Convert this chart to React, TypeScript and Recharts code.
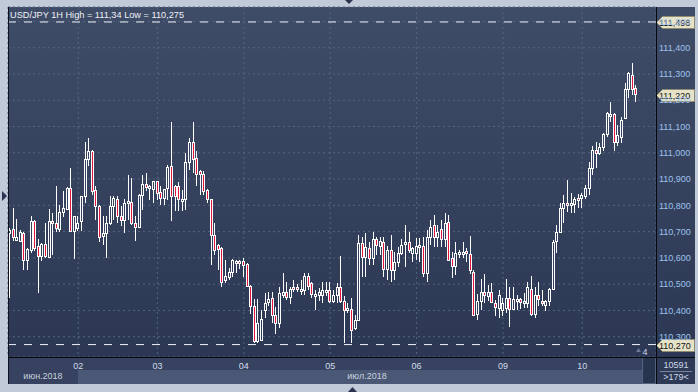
import React from 'react';
import { ComposedChart, Bar, XAxis, YAxis, CartesianGrid, ReferenceLine } from 'recharts';

const FONT = '"Liberation Sans", Arial, sans-serif';

// ---- data (hourly USD/JPY candles) ----
const opens = [
  110.695, 110.711, 110.669, 110.666, 110.694, 110.593, 110.631, 110.741, 110.644, 110.606,
  110.652, 110.602, 110.741, 110.732, 110.711, 110.774, 110.786, 110.865, 110.701, 110.713,
  110.739, 110.834, 110.976, 111.005, 110.859, 110.799, 110.684, 110.694, 110.732, 110.799,
  110.825, 110.758, 110.745, 110.808, 110.812, 110.732, 110.717, 110.840, 110.882, 110.865,
  110.862, 110.891, 110.849, 110.827, 110.865, 110.948, 110.872, 110.874, 110.823, 110.823,
  110.964, 111.043, 110.979, 110.929, 110.920, 110.859, 110.823, 110.688, 110.650, 110.637,
  110.517, 110.529, 110.545, 110.587, 110.590, 110.587, 110.578, 110.492, 110.416, 110.282,
  110.289, 110.403, 110.431, 110.447, 110.384, 110.352, 110.460, 110.472, 110.450, 110.489,
  110.488, 110.473, 110.479, 110.532, 110.504, 110.457, 110.460, 110.460, 110.478, 110.478,
  110.434, 110.460, 110.491, 110.434, 110.402, 110.405, 110.333, 110.364, 110.658, 110.603,
  110.637, 110.600, 110.671, 110.646, 110.662, 110.557, 110.630, 110.552, 110.586, 110.618,
  110.653, 110.662, 110.620, 110.620, 110.643, 110.646, 110.544, 110.678, 110.725, 110.678,
  110.709, 110.671, 110.738, 110.599, 110.570, 110.620, 110.622, 110.628, 110.614, 110.546,
  110.388, 110.434, 110.472, 110.456, 110.472, 110.428, 110.409, 110.400, 110.409, 110.447,
  110.405, 110.434, 110.443, 110.428, 110.428, 110.481, 110.387, 110.459, 110.437, 110.419,
  110.434, 110.481, 110.666, 110.700, 110.789, 110.810, 110.802, 110.805, 110.827, 110.827,
  110.836, 110.865, 110.941, 111.011, 110.998, 111.021, 111.072, 111.145, 111.148, 111.040,
  111.059, 111.131, 111.241, 111.296, 111.245,
];
const highs = [
  110.713, 110.789, 110.749, 110.705, 110.700, 110.637, 110.758, 110.745, 110.673, 110.656,
  110.732, 110.787, 110.770, 110.874, 110.802, 110.853, 110.870, 110.941, 110.758, 110.758,
  110.836, 111.043, 111.055, 111.010, 110.874, 110.802, 110.758, 110.758, 110.834, 110.836,
  110.836, 110.796, 110.823, 110.916, 110.903, 110.758, 110.844, 110.916, 110.922, 110.876,
  110.893, 110.893, 110.874, 110.864, 110.954, 111.119, 110.878, 110.887, 110.859, 111.001,
  111.055, 111.116, 111.008, 110.935, 110.929, 110.862, 110.826, 110.732, 110.652, 110.640,
  110.593, 110.561, 110.596, 110.593, 110.593, 110.599, 110.580, 110.498, 110.443, 110.443,
  110.403, 110.466, 110.469, 110.469, 110.413, 110.491, 110.542, 110.510, 110.491, 110.517,
  110.500, 110.515, 110.542, 110.542, 110.508, 110.478, 110.485, 110.510, 110.510, 110.510,
  110.478, 110.504, 110.608, 110.453, 110.428, 110.447, 110.383, 110.687, 110.678, 110.694,
  110.662, 110.697, 110.678, 110.681, 110.681, 110.646, 110.687, 110.624, 110.643, 110.671,
  110.725, 110.700, 110.643, 110.675, 110.675, 110.681, 110.706, 110.744, 110.763, 110.725,
  110.744, 110.772, 110.763, 110.624, 110.662, 110.631, 110.662, 110.637, 110.684, 110.555,
  110.463, 110.519, 110.540, 110.498, 110.504, 110.441, 110.479, 110.447, 110.519, 110.491,
  110.491, 110.460, 110.447, 110.466, 110.510, 110.532, 110.491, 110.510, 110.476, 110.441,
  110.485, 110.669, 110.726, 110.808, 110.840, 110.897, 110.848, 110.833, 110.844, 110.846,
  110.878, 110.966, 111.026, 111.043, 111.036, 111.074, 111.157, 111.195, 111.150, 111.106,
  111.135, 111.267, 111.309, 111.343, 111.258,
];
const lows = [
  110.447, 110.663, 110.666, 110.660, 110.555, 110.555, 110.618, 110.625, 110.466, 110.587,
  110.600, 110.600, 110.612, 110.700, 110.698, 110.757, 110.783, 110.698, 110.597, 110.701,
  110.701, 110.808, 110.948, 110.840, 110.745, 110.660, 110.650, 110.600, 110.726, 110.745,
  110.732, 110.723, 110.694, 110.745, 110.726, 110.666, 110.713, 110.783, 110.853, 110.821,
  110.808, 110.821, 110.802, 110.802, 110.821, 110.739, 110.777, 110.777, 110.777, 110.783,
  110.935, 110.922, 110.872, 110.840, 110.840, 110.808, 110.574, 110.612, 110.555, 110.491,
  110.504, 110.517, 110.529, 110.542, 110.557, 110.529, 110.490, 110.388, 110.276, 110.276,
  110.286, 110.371, 110.416, 110.352, 110.311, 110.333, 110.447, 110.441, 110.425, 110.472,
  110.470, 110.460, 110.460, 110.479, 110.447, 110.402, 110.434, 110.428, 110.453, 110.428,
  110.428, 110.428, 110.428, 110.276, 110.390, 110.276, 110.326, 110.358, 110.529, 110.527,
  110.573, 110.573, 110.611, 110.611, 110.527, 110.517, 110.510, 110.517, 110.567, 110.611,
  110.567, 110.618, 110.586, 110.592, 110.586, 110.527, 110.510, 110.650, 110.643, 110.643,
  110.643, 110.643, 110.590, 110.523, 110.535, 110.599, 110.599, 110.586, 110.540, 110.377,
  110.365, 110.400, 110.428, 110.434, 110.428, 110.380, 110.371, 110.377, 110.390, 110.337,
  110.403, 110.403, 110.405, 110.409, 110.409, 110.377, 110.371, 110.415, 110.418, 110.396,
  110.415, 110.476, 110.618, 110.697, 110.732, 110.773, 110.770, 110.770, 110.789, 110.789,
  110.823, 110.840, 110.916, 110.941, 110.993, 111.005, 111.059, 111.119, 111.008, 111.026,
  111.039, 111.127, 111.207, 111.220, 111.195,
];
const closes = [
  110.705, 110.679, 110.679, 110.698, 110.593, 110.633, 110.741, 110.637, 110.606, 110.652,
  110.606, 110.741, 110.732, 110.713, 110.774, 110.789, 110.865, 110.701, 110.758, 110.732,
  110.834, 110.976, 111.005, 110.853, 110.799, 110.681, 110.694, 110.732, 110.799, 110.827,
  110.761, 110.745, 110.808, 110.815, 110.732, 110.717, 110.840, 110.882, 110.869, 110.874,
  110.891, 110.846, 110.827, 110.862, 110.945, 110.836, 110.836, 110.823, 110.826, 110.964,
  111.043, 110.976, 110.920, 110.920, 110.853, 110.823, 110.688, 110.631, 110.633, 110.510,
  110.532, 110.545, 110.593, 110.590, 110.583, 110.573, 110.492, 110.416, 110.282, 110.352,
  110.367, 110.428, 110.445, 110.384, 110.352, 110.466, 110.472, 110.451, 110.481, 110.481,
  110.482, 110.480, 110.532, 110.494, 110.464, 110.462, 110.472, 110.478, 110.479, 110.434,
  110.460, 110.489, 110.434, 110.402, 110.409, 110.326, 110.364, 110.656, 110.603, 110.643,
  110.600, 110.671, 110.650, 110.666, 110.557, 110.630, 110.552, 110.586, 110.620, 110.650,
  110.662, 110.630, 110.637, 110.646, 110.650, 110.544, 110.678, 110.719, 110.678, 110.700,
  110.671, 110.732, 110.592, 110.570, 110.620, 110.624, 110.624, 110.618, 110.555, 110.384,
  110.434, 110.472, 110.460, 110.472, 110.432, 110.413, 110.460, 110.428, 110.447, 110.405,
  110.443, 110.443, 110.432, 110.437, 110.489, 110.387, 110.460, 110.443, 110.428, 110.434,
  110.481, 110.662, 110.700, 110.789, 110.808, 110.802, 110.808, 110.823, 110.821, 110.840,
  110.865, 110.941, 111.011, 110.998, 111.021, 111.072, 111.153, 111.148, 111.040, 111.068,
  111.125, 111.241, 111.305, 111.241, 111.224,
];

const dayTickIndex = [19, 41, 65, 89, 113, 137, 159];
const dayTickLabels = ['02', '03', '04', '05', '06', '09', '10'];
const priceTicks = [110.3, 110.4, 110.5, 110.6, 110.7, 110.8, 110.9, 111.0, 111.1, 111.2, 111.3, 111.4, 111.5];
const highLine = 111.498;
const lowLine = 110.27;
const lastPrice = 111.22;
const monthLabels = ['июн.2018', 'июл.2018'];
const titleText = 'USD/JPY 1H High = 111,34 Low = 110,275';
const barsCountText = '10591';
const visibleText = '>179<';
const cornerNumber = '4';

// ---- layout ----
const SLOT_COUNT = 180;
const Y_MIN = 110.2227;
const Y_MAX = 111.555;
const RED = '#e2153d';

const rows = Array.from({ length: SLOT_COUNT }, (_, i) =>
  i < opens.length
    ? { t: i, o: opens[i], h: highs[i], l: lows[i], c: closes[i], range: [lows[i], highs[i]] }
    : { t: i, range: null }
);

const fmt = (v: number) => v.toFixed(3).replace('.', ',');
const dayLabel = (v: any) => {
  const k = dayTickIndex.indexOf(Number(v));
  return k >= 0 ? dayTickLabels[k] : '';
};

function Candle(props: any) {
  const { x, y, width, height, payload } = props;
  if (!payload || payload.o == null || x == null || y == null) return null;
  const { o, h, l, c } = payload;
  const top = Math.min(y, y + height);
  const bottom = Math.max(y, y + height);
  const span = h - l;
  const ppu = span > 0 ? (bottom - top) / span : 0;
  const yOf = (v: number) => top + (h - v) * ppu;
  const cx = Math.floor(x + width / 2);
  const wTop = Math.round(top);
  const wBot = Math.round(bottom);
  const bTop = Math.round(yOf(Math.max(o, c)));
  let bBot = Math.round(yOf(Math.min(o, c)));
  if (bBot - bTop < 2) bBot = bTop + 2;
  const bear = c < o;
  return (
    <g>
      <rect x={cx} y={wTop} width={1} height={Math.max(1, wBot - wTop)} fill="#ffffff" />
      <rect x={cx - 1} y={bTop} width={3} height={bBot - bTop + 1} fill="#ffffff" />
      <rect x={cx} y={bTop + 1} width={1} height={bBot - bTop - 1} fill={bear ? RED : 'url(#candleHole)'} />
    </g>
  );
}

function PriceTag(props: any) {
  const { viewBox, text } = props;
  if (!viewBox) return null;
  const px = viewBox.x + viewBox.width;
  const py = Math.round(viewBox.y) + 0.5;
  return (
    <g>
      <path
        d={`M${px + 0.5} ${py} L${px + 6.5} ${py - 6} L${px + 38.5} ${py - 6} L${px + 38.5} ${py + 6} L${px + 6.5} ${py + 6} Z`}
        fill="#e5e2c8"
        stroke="#8f8c74"
        strokeWidth={1}
      />
      <text x={px + 3} y={py} dy="0.35em" fontSize={9} fontFamily={FONT} fill="#141414">
        {text}
      </text>
    </g>
  );
}

export default function App() {
  return (
    <div style={{ position: 'absolute', left: 0, top: 0, width: 698, height: 392, fontFamily: FONT }}>
      <svg width={698} height={392} style={{ position: 'absolute', left: 0, top: 0 }}>
        <defs>
          <linearGradient id="panelGrad" gradientUnits="userSpaceOnUse" x1="0" y1="7" x2="0" y2="357">
            <stop offset="0" stopColor="#3f4c68" />
            <stop offset="1" stopColor="#2c3853" />
          </linearGradient>
          <linearGradient id="candleHole" gradientUnits="userSpaceOnUse" x1="0" y1="7" x2="0" y2="357">
            <stop offset="0" stopColor="#3f4c68" />
            <stop offset="1" stopColor="#2c3853" />
          </linearGradient>
        </defs>
        <rect x={0} y={0} width={698} height={392} fill="#c0cad8" />
        <rect x={8} y={7} width={687} height={350} fill="url(#panelGrad)" />
        <rect x={8} y={357} width={648} height={13} fill="#36425f" />
        <rect x={8} y={370} width={70} height={14} fill="#36425f" />
        <rect x={78} y={370} width={564} height={14} fill="#4b5875" />
        <rect x={642.5} y={357.5} width={13} height={26} fill="#29344f" stroke="#55627d" />
        <rect x={656} y={357} width={39} height={27} fill="#2d3955" />
        <line x1={660} x2={692} y1={371.5} y2={371.5} stroke="#7a869d" />
        <text x={43} y={376} dy="0.35em" textAnchor="middle" fontSize={9} fill="#c9d1de">{monthLabels[0]}</text>
        <text x={367} y={376} dy="0.35em" textAnchor="middle" fontSize={9} fill="#c9d1de">{monthLabels[1]}</text>
        <text x={676} y={365} dy="0.35em" textAnchor="middle" fontSize={9} fill="#cfd8e8">{barsCountText}</text>
        <text x={676} y={377} dy="0.35em" textAnchor="middle" fontSize={9} fill="#cfd8e8">{visibleText}</text>
        <polygon points="345,0 353,0 349,4" fill="#2a3350" />
        <polygon points="348,392 357,392 352.5,387" fill="#2a3350" />
        <polygon points="2,191 2,201 7,196" fill="#2a3350" />
      </svg>

      <div style={{ position: 'absolute', left: 0, top: 0 }}>
        <ComposedChart
          width={698}
          height={392}
          data={rows}
          margin={{ top: 7, right: 3, bottom: 9, left: 8 }}
          barCategoryGap={0}
        >
          <CartesianGrid stroke="#56647f" strokeDasharray="2 3" vertical horizontal />
          <XAxis
            dataKey="t"
            type="category"
            ticks={dayTickIndex}
            interval={0}
            tickFormatter={dayLabel}
            height={26}
            tickSize={0}
            tickMargin={6}
            axisLine={false}
            tickLine={false}
            tick={{ fill: '#d3dbea', fontSize: 9, fontFamily: FONT }}
          />
          <YAxis
            orientation="right"
            type="number"
            domain={[Y_MIN, Y_MAX]}
            ticks={priceTicks}
            allowDataOverflow
            width={39}
            tickSize={0}
            tickMargin={3}
            axisLine={false}
            tickLine={false}
            tickFormatter={fmt}
            tick={{ fill: '#9dc2ee', fontSize: 9, fontFamily: FONT, textAnchor: 'start' }}
          />
          <Bar dataKey="range" barSize={3} isAnimationActive={false} shape={(p: any) => <Candle {...p} />} />
          <ReferenceLine
            y={highLine}
            stroke="#eef2f8"
            strokeDasharray="8 8"
            ifOverflow="visible"
            label={<PriceTag text={fmt(highLine)} />}
          />
          <ReferenceLine
            y={lowLine}
            stroke="#eef2f8"
            strokeDasharray="8 8"
            ifOverflow="visible"
            label={<PriceTag text={fmt(lowLine)} />}
          />
          <ReferenceLine
            y={lastPrice}
            stroke="none"
            strokeOpacity={0}
            ifOverflow="visible"
            label={<PriceTag text={fmt(lastPrice)} />}
          />
        </ComposedChart>
      </div>

      <svg width={698} height={392} style={{ position: 'absolute', left: 0, top: 0, pointerEvents: 'none' }}>
        <text x={10} y={15} dy="0.35em" fontSize={9.2} fill="#eef1f6">{titleText}</text>
        <line x1={8.5} x2={8.5} y1={7} y2={384} stroke="#0c1220" />
        <line x1={656.5} x2={656.5} y1={7} y2={384} stroke="#05080f" />
        <line x1={8} x2={695} y1={357.5} y2={357.5} stroke="#05080f" />
        <polygon points="636,352 641,352 638.5,348" fill="#6b7691" />
        <text x={645} y={352} dy="0.35em" textAnchor="middle" fontSize={9} fill="#d0d8e6">{cornerNumber}</text>
      </svg>
    </div>
  );
}
